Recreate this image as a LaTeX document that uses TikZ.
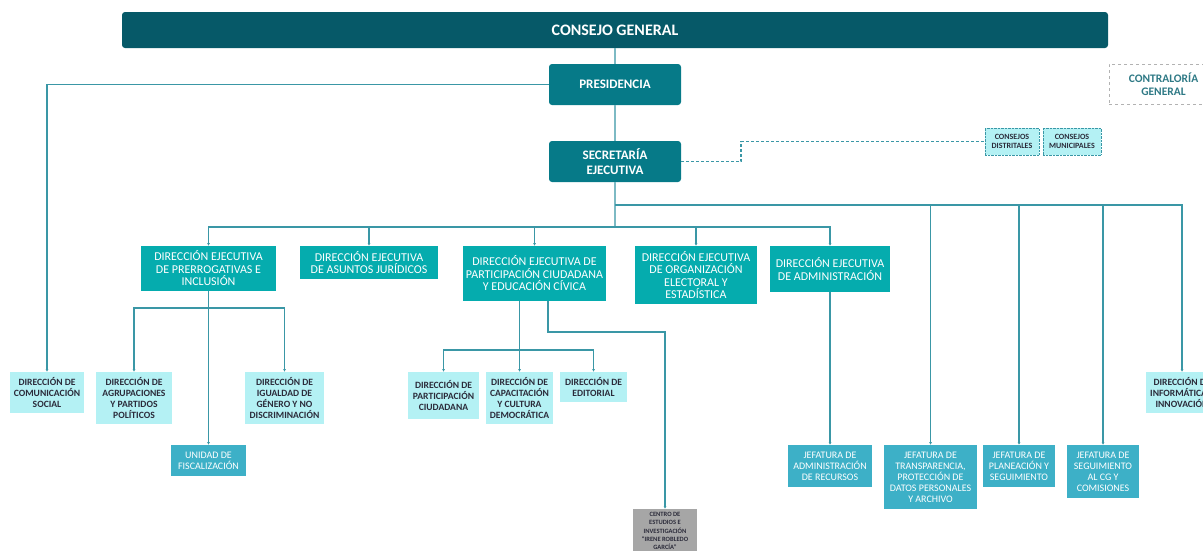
\documentclass[tikz,border=0pt]{standalone}
\usepackage{fontspec}
\setmainfont{Carlito}
\usetikzlibrary{arrows.meta}
\definecolor{cgcol}{HTML}{065968}
\definecolor{prcol}{HTML}{067A88}
\definecolor{decol}{HTML}{05ACAE}
\definecolor{ltcol}{HTML}{B4F1F4}
\definecolor{jfcol}{HTML}{3DB0C7}
\definecolor{lncol}{HTML}{3A97A6}
\definecolor{lncolb}{HTML}{7DBAC4}
\definecolor{txcol}{HTML}{2B2B3A}
\begin{document}
\begin{tikzpicture}[x=1pt,y=-1pt,
  sz/.style 2 args={minimum width=#1pt,minimum height=#2pt},
  box/.style={inner sep=1pt,outer sep=0pt,align=center},
  top/.style={box,fill=prcol,rounded corners=3pt,text=white,font=\fontsize{13}{15}\selectfont\bfseries},
  dir/.style={box,fill=decol,text=white,font=\fontsize{12}{12.5}\selectfont},
  lite/.style={box,fill=ltcol,text=txcol,font=\fontsize{9.6}{11}\selectfont\bfseries},
  jef/.style={box,fill=jfcol,text=white,font=\fontsize{10}{11}\selectfont},
  arr/.style={draw=lncol,line width=1.1pt,-{Latex[length=3pt,width=3pt]}},
  lnk/.style={draw=lncolb,line width=1.1pt}]
\useasboundingbox (0,0) rectangle (1203,550);
% top of the chart
\node[top,fill=cgcol,sz={986}{36},font=\fontsize{16}{18}\selectfont\bfseries] (cg) at (615,30) {CONSEJO GENERAL};
\node[top,sz={132}{41}] (presi) at (615,84.5) {PRESIDENCIA};
\node[top,sz={132}{41}] (secre) at (615,161.5) {SECRETARÍA\\EJECUTIVA};
\node[box,sz={109}{40},draw=gray!60,dashed,text=lncol!80!black,font=\fontsize{11.5}{13.5}\selectfont\bfseries] (contra) at (1163.5,84) {CONTRALORÍA\\GENERAL};
\node[lite,sz={54}{27},draw=lncol,densely dotted,font=\fontsize{8}{9}\selectfont\bfseries] (cdist) at (1012,141.5) {CONSEJOS\\DISTRITALES};
\node[lite,sz={58}{27},draw=lncol,densely dotted,font=\fontsize{8}{9}\selectfont\bfseries] (cmun) at (1072,141.5) {CONSEJOS\\MUNICIPALES};
% direcciones ejecutivas
\node[dir,sz={135}{45}] (deprer) at (208.5,268.5) {DIRECCIÓN EJECUTIVA\\DE PRERROGATIVAS E\\INCLUSIÓN};
\node[dir,sz={138}{33}] (dejur) at (369,262.5) {DIRECCIÓN EJECUTIVA\\DE ASUNTOS JURÍDICOS};
\node[dir,sz={143}{55}] (depart) at (534.5,273.5) {DIRECCIÓN EJECUTIVA DE\\PARTICIPACIÓN CIUDADANA\\Y EDUCACIÓN CÍVICA};
\node[dir,sz={122}{58}] (deorg) at (696,275) {DIRECCIÓN EJECUTIVA\\DE ORGANIZACIÓN\\ELECTORAL Y\\ESTADÍSTICA};
\node[dir,sz={120}{46}] (deadm) at (830,269) {DIRECCIÓN EJECUTIVA\\DE ADMINISTRACIÓN};
% direcciones
\node[lite,sz={74}{41}] (comsoc) at (47,392.5) {DIRECCIÓN DE\\COMUNICACIÓN\\SOCIAL};
\node[lite,sz={76}{52}] (agrup) at (134,398) {DIRECCIÓN DE\\AGRUPACIONES\\Y PARTIDOS\\POLÍTICOS};
\node[lite,sz={79}{52}] (igual) at (284.5,398) {DIRECCIÓN DE\\IGUALDAD DE\\GÉNERO Y NO\\DISCRIMINACIÓN};
\node[jef,sz={75}{31}] (ufisc) at (208.5,460.5) {UNIDAD DE\\FISCALIZACIÓN};
\node[lite,sz={71}{47}] (pciud) at (443.5,395.5) {DIRECCIÓN DE\\PARTICIPACIÓN\\CIUDADANA};
\node[lite,sz={67}{52}] (capac) at (519.5,398) {DIRECCIÓN DE\\CAPACITACIÓN\\Y CULTURA\\DEMOCRÁTICA};
\node[lite,sz={67}{30}] (edit) at (593.5,387) {DIRECCIÓN DE\\EDITORIAL};
\node[box,sz={64}{44},fill=gray!70,text=txcol,font=\fontsize{6.5}{8.3}\selectfont\bfseries] (centro) at (665,531) {CENTRO DE\\ESTUDIOS E\\INVESTIGACIÓN\\``IRENE ROBLEDO\\GARCÍA''};
\node[lite,sz={72}{41}] (dinfo) at (1182,392.5) {DIRECCIÓN DE\\INFORMÁTICA E\\INNOVACIÓN};
% jefaturas
\node[jef,sz={84}{42}] (jadmin) at (830,466) {JEFATURA DE\\ADMINISTRACIÓN\\DE RECURSOS};
\node[jef,sz={93}{64}] (jtransp) at (930.5,477) {JEFATURA DE\\TRANSPARENCIA,\\PROTECCIÓN DE\\DATOS PERSONALES\\Y ARCHIVO};
\node[jef,sz={72}{42}] (jplan) at (1019,466) {JEFATURA DE\\PLANEACIÓN Y\\SEGUIMIENTO};
\node[jef,sz={72}{53}] (jseg) at (1103,471.5) {JEFATURA DE\\SEGUIMIENTO\\AL CG Y\\COMISIONES};
% bus lines
\coordinate (busj) at (615,205);
\coordinate (busd) at (615,227);
\coordinate (busp) at (208.5,308);
\coordinate (busc) at (519.5,350);
\coordinate (cebase) at (548,301);
\draw[lnk] (cg) -- (presi) (presi) -- (secre);
\draw[lnk] (secre.south) -- (busd);
\draw[arr] (presi.west) -| (comsoc.north);
\draw[lncol,line width=1.1pt,densely dashed] (secre.east) -- ++(60,0) |- (cdist.west);
\draw[arr] (busj) -| (dinfo.north);
\foreach \n in {jtransp,jplan,jseg} \draw[arr] (busj) -| (\n.north);
\foreach \n in {deprer,dejur,depart,deorg,deadm} \draw[arr] (busd) -| (\n.north);
\draw[arr] (deadm) -- (jadmin);
\draw[arr] (deprer) -- (ufisc);
\foreach \n in {agrup,igual} \draw[arr] (busp) -| (\n.north);
\draw[arr] (capac.north |- depart.south) -- (capac.north);
\foreach \n in {pciud,edit} \draw[arr] (busc) -| (\n.north);
\draw[arr] (cebase) -- ++(0,31) -| (centro.north);
\end{tikzpicture}
\end{document}
